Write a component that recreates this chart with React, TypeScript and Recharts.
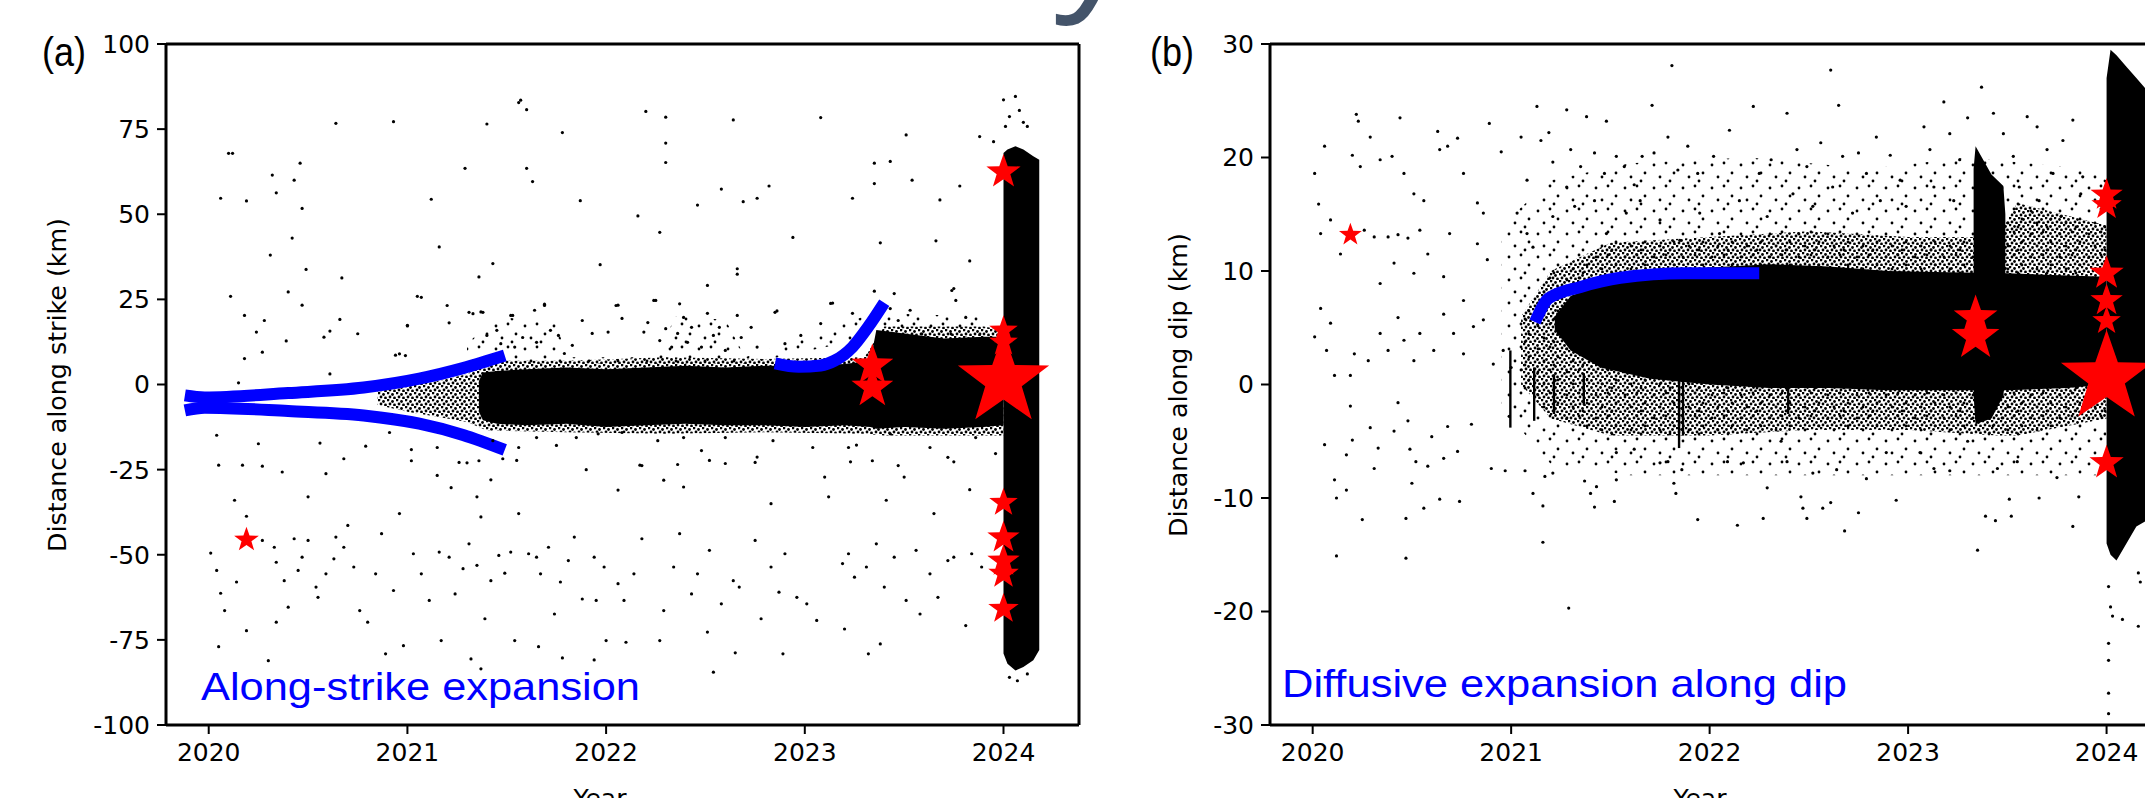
import React from 'react';
import { ComposedChart, XAxis, YAxis, Scatter, Line, Area, ReferenceLine } from 'recharts';

const YEAR_TICKS = [2020, 2021, 2022, 2023, 2024];
const STRIKE_TICKS = [-100, -75, -50, -25, 0, 25, 50, 75, 100];
const DIP_TICKS = [-30, -20, -10, 0, 10, 20, 30];
const YEAR_DOMAIN: [number, number] = [2019.785, 2024.38];

// ---------- panel (a): along strike ----------
// dense main band
const bandAYear = [2021.36, 2021.38, 2021.45, 2021.6, 2021.8, 2022.0, 2022.2, 2022.4, 2022.6, 2022.8, 2023.0, 2023.2, 2023.33, 2023.36, 2023.5, 2023.7, 2023.9, 2024.0];
const bandALow = [-8, -10.5, -11.5, -12, -11.5, -12.5, -12, -11.5, -12, -12, -12.5, -12, -12.5, -13, -12.5, -13, -12.5, -12];
const bandAHigh = [1, 3.5, 4, 4.5, 5, 4.5, 5, 5.5, 5, 5.5, 5.5, 6, 7, 16, 15, 13.5, 14, 14];
// 2024 column
const colAYear = [2024.0, 2024.02, 2024.06, 2024.1, 2024.15, 2024.18];
const colALow = [-79, -82, -84, -83, -81, -78];
const colAHigh = [68, 69, 70, 69, 67, 66];
// speckled halo around the band
const haloAYear = [2020.85, 2021.0, 2021.15, 2021.3, 2021.4, 2021.8, 2022.3, 2022.8, 2023.3, 2023.4, 2023.9, 2024.0];
const haloALow = [-6, -8, -9.5, -11, -13.5, -14, -14.5, -14, -14.5, -15, -15, -15];
const haloAHigh = [-1, 0, 1, 3, 7, 7, 8, 7.5, 8, 17, 17, 16];
const cloudAYear = [2021.3, 2021.45, 2021.75, 2021.8, 2022.25, 2022.35, 2022.6, 2022.7, 2023.35, 2023.9];
const cloudALow = [6, 6, 6, 6, 6, 6, 6, 6, 14, 14];
const cloudAHigh = [12, 20, 18, 8, 8, 20, 19, 8, 21, 20];

// blue migration fronts
const frontA1Year = [2019.88, 2019.98, 2020.4, 2020.78, 2021.06, 2021.28, 2021.49];
const frontA1Val = [-3.2, -3.8, -2.5, -0.9, 1.7, 4.8, 8.5];
const frontA2Year = [2019.88, 2019.98, 2020.4, 2020.78, 2021.06, 2021.28, 2021.49];
const frontA2Val = [-7.6, -6.8, -7.8, -9.1, -11.5, -14.8, -19.2];
const frontA3Year = [2022.85, 2022.97, 2023.08, 2023.15, 2023.24, 2023.32, 2023.4];
const frontA3Val = [6.2, 5.2, 5.6, 7, 11, 17, 24];

// large events
const starAYear = [2020.19, 2023.34, 2023.34, 2024.0, 2024.0, 2024.0, 2024.0, 2024.0, 2024.0, 2024.0, 2024.0, 2024.0];
const starAVal = [-45.6, 5.6, -0.9, 62.4, 15.9, 12.4, -34.7, -45, -51.8, -55.6, -65.9, 1.2];
const starASize = [13, 22, 22, 18, 15, 15, 15, 17, 17, 16, 16, 48];

const sparseA: [number, number][] = [
  [2020.06, 54.7], [2020.1, 67.9], [2020.12, 67.9], [2020.19, 53.9], [2020.32, 61.5], [2020.34, 56.3], [2020.43, 60], [2020.46, 65],
  [2020.47, 51.7], [2020.42, 43], [2020.31, 38], [2020.49, 33.8], [2020.67, 31.3], [2020.64, 76.7], [2020.93, 77.2], [2021.12, 54.4],
  [2021.16, 40.4], [2021.29, 63.5], [2021.4, 76.5], [2021.43, 35.5], [2021.36, 31.6], [2021.56, 82.8], [2021.57, 83.5], [2021.6, 80.7],
  [2021.6, 63.5], [2021.63, 59.6], [2021.78, 74], [2021.87, 54], [2021.97, 35.2], [2022.16, 49.5], [2022.2, 80.2], [2022.3, 78.5],
  [2022.3, 70.9], [2022.3, 65.2], [2022.27, 44.7], [2022.46, 52.7], [2022.58, 57.4], [2022.64, 77.7], [2022.66, 32.4], [2022.69, 53.7],
  [2022.76, 54.7], [2022.82, 58.3], [2022.94, 43.2], [2023.08, 78.4], [2023.24, 54.7], [2023.35, 65], [2023.35, 59], [2023.38, 41.6],
  [2023.43, 65.5], [2023.51, 73.3], [2023.54, 60], [2023.68, 54.2], [2023.66, 42.2], [2023.78, 58.3], [2023.83, 36.3], [2023.88, 72.8],
  [2023.95, 71.3], [2024.0, 83.6], [2024.06, 84.6], [2024.03, 78.7], [2024.12, 75.8], [2024.01, 75.8], [2024.08, 80.5], [2024.1, 77],
  [2020.11, 25.9], [2020.18, 20.3], [2020.24, 15.4], [2020.28, 18.8], [2020.39, 12.8], [2020.4, 27.2], [2020.47, 23.3], [2020.58, 13.9],
  [2020.61, 15.7], [2020.66, 19.1], [2020.75, 14.9], [2021.0, 17.2], [2021.05, 25.9], [2021.21, 18.1], [2021.33, 20.8], [2021.37, 21.3],
  [2021.52, 20.3], [2021.69, 23.6], [2022.06, 23.3], [2022.24, 24.7], [2022.37, 23.7], [2022.51, 29.1], [2022.66, 34], [2022.86, 21.6],
  [2023.14, 23.9], [2023.35, 27.4], [2023.45, 26.7], [2023.75, 28.2], [2020.18, 7.6], [2020.27, 9.5], [2020.15, 0.5], [2020.61, 3.1],
  [2020.96, 9], [2020.99, 8.5], [2020.94, 8.6], [2021.0, 17.4], [2021.07, 25.6], [2021.2, 23.2], [2021.31, 21.2], [2021.38, 21.2],
  [2021.4, 14.4], [2021.45, 15.9], [2021.47, 12], [2021.53, 20.3], [2021.54, 11], [2021.58, 13.8], [2021.64, 21.8], [2021.65, 12.4],
  [2021.69, 23.2], [2021.72, 15.9], [2021.76, 14.4], [2021.79, 9.1], [2021.83, 11.5], [2021.88, 18.8], [2021.93, 15], [2022.01, 15.4],
  [2022.05, 23.2], [2022.08, 19.4], [2022.19, 15.4], [2022.21, 18.2], [2022.25, 24.7], [2022.27, 12.9], [2022.3, 16.4], [2022.33, 11],
  [2022.36, 15], [2022.39, 19.7], [2022.41, 12.4], [2022.43, 16.8], [2022.48, 11], [2022.51, 20.9], [2022.54, 14.4], [2022.57, 16.8],
  [2022.6, 10], [2022.66, 20.3], [2022.68, 13.8], [2022.73, 16.8], [2022.76, 11], [2022.85, 21.2], [2022.9, 12], [2022.98, 14.4],
  [2023.08, 17.9], [2023.13, 23.8], [2023.24, 20.9], [2023.43, 22.3], [2023.47, 18.8], [2023.53, 21.8], [2023.74, 27.6], [2023.76, 24.7],
  [2023.81, 19.7],
  [2020.04, -14.9], [2020.05, -23.7], [2020.17, -23.7], [2020.27, -24], [2020.25, -17.4], [2020.37, -25.7], [2020.56, -17.2], [2020.59, -26.2],
  [2020.68, -21.8], [2020.79, -18.1], [2021.02, -19.1], [2021.15, -26.7], [2021.22, -30.3], [2021.3, -23], [2021.42, -28], [2021.35, -33],
  [2021.48, -21.8], [2021.55, -22.3], [2021.9, -25], [2022.06, -31], [2022.17, -23.7], [2022.29, -28.1], [2022.36, -23.5], [2022.39, -30.1],
  [2022.52, -22.3], [2022.6, -23.2], [2022.76, -21.3], [2022.83, -35], [2023.1, -27.2], [2023.12, -33], [2023.23, -22.7], [2023.26, -17.8],
  [2023.41, -34], [2023.5, -27.2], [2023.65, -37.9], [2023.75, -22.7], [2023.83, -30.9], [2023.96, -20.3],
  [2020.01, -49.5], [2020.04, -54.6], [2020.08, -66.4], [2020.06, -61.3], [2020.14, -58], [2020.18, -45.8], [2020.19, -72.3], [2020.13, -34],
  [2020.19, -38.7], [2020.27, -45.8], [2020.33, -47.8], [2020.34, -52.2], [2020.38, -57.6], [2020.4, -65.4], [2020.34, -69.8], [2020.43, -45.3],
  [2020.47, -50.7], [2020.45, -54.6], [2020.5, -45.8], [2020.5, -33], [2020.54, -59.5], [2020.55, -62.5], [2020.59, -55.6], [2020.63, -51.2],
  [2020.64, -44.8], [2020.68, -47.8], [2020.7, -41.4], [2020.73, -53.6], [2020.76, -66.4], [2020.8, -69.8], [2020.84, -55.6], [2020.87, -43.8],
  [2020.93, -60.5], [2020.96, -37.9], [2021.03, -49.7], [2021.07, -55.6], [2021.11, -63.4], [2021.16, -49.2], [2021.21, -50.7], [2021.24, -61.5],
  [2021.28, -54.1], [2021.31, -46.8], [2021.35, -53.1], [2021.37, -38.9], [2021.39, -68.8], [2021.42, -57.6], [2021.46, -50.2], [2021.49, -55.4],
  [2021.52, -49.2], [2021.56, -37.9], [2021.61, -49.7], [2021.65, -50.7], [2021.67, -55.6], [2021.71, -47.8], [2021.74, -67.4], [2021.77, -58],
  [2021.81, -51.7], [2021.84, -44.8], [2021.88, -63], [2021.94, -50.7], [2021.95, -63.4], [2021.99, -53.6], [2022.06, -58.5], [2022.09, -63.4],
  [2022.14, -55.6], [2022.18, -45.3], [2022.29, -66.4], [2022.34, -53.6], [2022.37, -43.8], [2022.43, -61.5], [2022.46, -55.6], [2022.52, -48.7],
  [2022.58, -64.4], [2022.64, -57.6], [2022.67, -59.5], [2022.75, -45.8], [2022.78, -68.8], [2022.83, -53.6], [2022.87, -61], [2022.9, -49.7],
  [2022.96, -62.5], [2023.01, -64.4], [2023.06, -69.3], [2023.19, -52.6], [2023.22, -49.7], [2023.25, -56.6], [2023.31, -53.6], [2023.36, -46.8],
  [2023.4, -59.5], [2023.45, -50.7], [2023.51, -63.4], [2023.56, -48.7], [2023.58, -67.4], [2023.63, -55.6], [2023.67, -62.5], [2023.72, -51.7],
  [2023.75, -50.7], [2023.84, -49.7], [2023.89, -53.6], [2023.81, -70.8],
  [2020.05, -77], [2020.3, -81.1], [2020.89, -79.1], [2020.98, -76.7], [2021.17, -75.2], [2021.32, -80.6], [2021.37, -83.5], [2021.54, -75.2],
  [2021.66, -77], [2021.78, -80.3], [2021.94, -80.9], [2022.0, -75.2], [2022.1, -75.7], [2022.27, -75.2], [2022.51, -72.7], [2022.54, -84.5],
  [2022.65, -78.8], [2022.89, -79.1], [2023.2, -71.8], [2023.32, -79.1], [2023.38, -76.2],
  [2020.91, -14.1], [2021.02, -22.4], [2021.15, -18.5], [2021.26, -22.9], [2021.36, -22.4], [2021.43, -16.5], [2021.56, -18.5], [2021.65, -15.6],
  [2021.75, -17.9], [2021.85, -15.6], [2021.96, -14.5], [2022.08, -14.1], [2022.18, -23.8], [2022.26, -16.5], [2022.39, -15.6], [2022.48, -19.4],
  [2022.6, -15.6], [2022.75, -22.9], [2022.84, -16.5], [2023.04, -18.5], [2023.22, -18.5], [2023.34, -22.4], [2023.43, -14.5], [2023.47, -23.8],
  [2023.63, -18.5], [2023.72, -21.4], [2023.86, -15.6], [2024.03, -86], [2024.07, -87], [2024.12, -85],
];

// ---------- panel (b): along dip ----------
const coreBYear = [2021.22, 2021.3, 2021.45, 2021.7, 2022.0, 2022.3, 2022.6, 2022.9, 2023.2, 2023.5, 2023.8, 2024.0];
const coreBLow = [4.8, 3, 1.5, 0.5, 0, -0.3, -0.3, -0.5, -0.5, -0.5, -0.3, 0];
const coreBHigh = [6, 7.8, 8.8, 9.8, 10.3, 10.6, 10.4, 10, 9.9, 9.8, 9.6, 9.5];
const spikeBYear = [2023.33, 2023.34, 2023.42, 2023.48, 2023.49];
const spikeBLow = [-1, -3.5, -3, -1, 1];
const spikeBHigh = [19, 21, 18.5, 17.5, 15];
const colBYear = [2024.0, 2024.02, 2024.05, 2024.1, 2024.15, 2024.2];
const colBLow = [-14, -15, -15.5, -14, -12.5, -12];
const colBHigh = [27, 29.5, 29, 28, 27, 26];
// short vertical streaks of bursts below the cloud
const streakBYear = [2020.99, 2021.11, 2021.21, 2021.36, 2021.84, 2021.86, 2022.39];
const streakBLow = [-3.8, -3.2, -2.6, -1.8, -5.6, -4.5, -2.6];
const streakBHigh = [3, 1.5, 0.9, 1, 0.4, 0.4, 0.4];
const haloBYear = [2021.05, 2021.2, 2021.5, 2022.0, 2022.5, 2023.0, 2023.45, 2023.55, 2024.0];
const haloBLow = [0, -3, -4.5, -4.5, -4, -4, -4.5, -4.5, -3];
const haloBHigh = [6, 10, 12.5, 13, 13.5, 13, 13, 16, 14];
const cloudBYear = [2020.95, 2021.2, 2021.6, 2022.2, 2022.8, 2023.3, 2023.9, 2024.0];
const cloudBLow = [-2, -7, -8, -8, -8, -8, -8, -8];
const cloudBHigh = [14, 18, 19.5, 20, 19, 20, 19, 18];

const frontBYear = [2021.12, 2021.19, 2021.35, 2021.55, 2021.88, 2022.25];
const frontBVal = [5.5, 7.6, 8.6, 9.4, 9.8, 9.8];

const starBYear = [2020.19, 2023.34, 2023.34, 2024.0, 2024.0, 2024.0, 2024.0, 2024.0, 2024.0, 2024.0];
const starBVal = [13.2, 5.9, 4.2, 16.7, 15.8, 9.8, 7.4, 5.6, -6.9, 0.6];
const starBSize = [12, 23, 25, 17, 16, 18, 17, 15, 18, 48];

const sparseB: [number, number][] = [
  [2020.01, 18.6], [2020.06, 21], [2020.03, 15.9], [2020.22, 23.8], [2020.23, 23.2], [2020.2, 20.2], [2020.29, 21.8], [2020.24, 19.2],
  [2020.34, 19.8], [2020.4, 20.1], [2020.44, 23.5], [2020.46, 18.6], [2020.51, 16.8], [2020.56, 16.2], [2020.63, 22.3], [2020.64, 20.7],
  [2020.68, 21], [2020.73, 21.7], [2020.76, 18.6], [2020.83, 16], [2020.86, 15.1], [2020.89, 23], [2020.95, 20.5], [2021.05, 21.8],
  [2021.08, 18], [2021.13, 24.5], [2021.15, 21.5], [2021.19, 22.2], [2021.21, 19.6], [2021.28, 24.2], [2021.3, 20.7], [2021.35, 19.2],
  [2021.38, 23.6], [2021.42, 20.4], [2021.47, 18.6], [2021.48, 23.2], [2021.53, 20.1], [2021.57, 19.2], [2021.62, 17.6], [2021.66, 20.1],
  [2021.71, 24.6], [2021.72, 20.4], [2021.79, 21.8], [2021.81, 28.1], [2021.84, 18.9], [2021.89, 21], [2021.94, 18.6], [2022.02, 20.1],
  [2022.1, 22.4], [2022.22, 24.5], [2022.25, 18.6], [2022.31, 19.8], [2022.39, 23.9], [2022.44, 20.7], [2022.49, 19.2], [2022.56, 21.3],
  [2022.61, 27.7], [2022.65, 24.6], [2022.67, 20.1], [2022.75, 20.4], [2022.79, 18.6], [2022.84, 21.8], [2022.91, 20.2], [2022.96, 18],
  [2023.08, 22.7], [2023.11, 20.7], [2023.18, 24.9], [2023.21, 22.1], [2023.26, 19.8], [2023.3, 23.5], [2023.37, 26.2], [2023.43, 23.9],
  [2023.48, 22.1], [2023.53, 20.1], [2023.6, 23.6], [2023.65, 22.7], [2023.7, 20.7], [2023.73, 18.6], [2023.78, 21.5], [2023.83, 23.3],
  [2023.88, 18.3],
  [2020.04, 13.3], [2020.09, 14.5], [2020.14, 11.5], [2020.26, 13.6], [2020.31, 13], [2020.38, 13], [2020.43, 13.2], [2020.48, 12.9],
  [2020.54, 13.6], [2020.34, 8.9], [2020.41, 10.7], [2020.51, 9.8], [2020.58, 11.5], [2020.66, 9.5], [2020.69, 13.3], [2020.76, 7.4],
  [2020.83, 12.4], [2020.88, 11], [2021.03, 15.1], [2021.08, 13.3], [2021.11, 12.1], [2021.21, 14.8], [2021.28, 17.4], [2021.32, 15.7],
  [2021.42, 16.2], [2021.48, 13.3], [2021.58, 15.1], [2021.65, 16.2], [2021.75, 14.5], [2021.85, 12.7], [2021.95, 15.1], [2022.05, 13.3],
  [2022.15, 16.2], [2022.29, 14.8], [2022.42, 16.8], [2022.52, 15.7], [2022.62, 17.4], [2022.72, 15.1], [2022.86, 16.2], [2022.99, 15.7],
  [2023.13, 17.4], [2023.23, 16.2], [2023.46, 15.7], [2023.56, 17.4], [2023.66, 16.2], [2023.77, 14.8], [2023.87, 16.8],
  [2020.01, 4.2], [2020.04, 6.7], [2020.07, 3], [2020.11, 0.8], [2020.19, 0.8], [2020.09, 5.4], [2020.21, 2.7], [2020.28, 2.1],
  [2020.34, 4.5], [2020.38, 3], [2020.43, 5.9], [2020.46, 3.9], [2020.51, 2.1], [2020.54, 4.5], [2020.61, 3], [2020.66, 6.2],
  [2020.71, 4.5], [2020.76, 2.7], [2020.81, 5.1], [2020.86, 5.7], [2020.91, 1.8], [2020.96, 3], [2021.0, 1.5],
  [2020.06, -5.3], [2020.11, -8.4], [2020.12, -10], [2020.12, -15.1], [2020.17, -6.2], [2020.17, -9.3], [2020.19, -1.9], [2020.2, -4.9],
  [2020.25, -11.9], [2020.29, -3.8], [2020.31, -7.4], [2020.33, -5.6], [2020.41, -4.1], [2020.43, -1.6], [2020.47, -11.8], [2020.47, -15.3],
  [2020.48, -3.2], [2020.49, -5.7], [2020.52, -6.8], [2020.5, -8.7], [2020.56, -10.9], [2020.58, -7.2], [2020.6, -4.6], [2020.64, -10.1],
  [2020.66, -6.5], [2020.68, -3.7], [2020.73, -5.9], [2020.74, -10.3], [2020.8, -3.5], [2020.9, -7.4], [2020.97, -7.6], [2020.99, -2.8],
  [2021.07, -7.6], [2021.11, -9.6], [2021.16, -10.7], [2021.16, -13.9], [2021.17, -8.1], [2021.21, -7.8], [2021.29, -19.7], [2021.37, -8.5],
  [2021.4, -9.6], [2021.42, -10.8], [2021.43, -9], [2021.52, -10.3], [2021.53, -8.4], [2021.53, -6], [2021.62, -5.7], [2021.75, -6.9],
  [2021.79, -6.8], [2021.82, -8.7], [2021.83, -9.6], [2021.86, -7.5], [2021.94, -11.9], [2022.09, -6.8], [2022.14, -12.4], [2022.17, -6.9],
  [2022.27, -11.8], [2022.29, -9.1], [2022.36, -5], [2022.39, -6.8], [2022.46, -9.9], [2022.47, -10.9], [2022.49, -11.8], [2022.52, -7.8],
  [2022.57, -10.9], [2022.61, -10.4], [2022.64, -7.5], [2022.68, -12.9], [2022.75, -11.3], [2022.79, -8.3], [2022.89, -6], [2022.94, -10.2],
  [2023.06, -6], [2023.13, -7.4], [2023.21, -7.6], [2023.3, -5], [2023.35, -14.6], [2023.39, -11.6], [2023.44, -12], [2023.45, -7.4],
  [2023.51, -10.1], [2023.52, -11.6], [2023.55, -6.8], [2023.66, -10], [2023.75, -8.2], [2023.83, -12.5], [2023.86, -9.9],
  [2024.01, -17.8], [2024.02, -19.6], [2024.03, -20.4], [2024.01, -22.8], [2024.01, -24.3], [2024.01, -27.2], [2024.01, -29], [2024.08, -20.7],
  [2024.16, -21.3], [2024.16, -16.6], [2024.17, -17.4],
];

const pairs = (xs: number[], ys: number[]) => xs.map((x, i) => ({ x, y: ys[i] }));
const ranges = (xs: number[], lo: number[], hi: number[]) => xs.map((x, i) => ({ x, v: [lo[i], hi[i]] }));
const stars = (xs: number[], ys: number[], rs: number[]) => xs.map((x, i) => ({ x, y: ys[i], r: rs[i] }));
const dots = (list: [number, number][]) => list.map(([x, y]) => ({ x, y }));
// each streak is a very narrow range area at its own date
const streaks = (xs: number[], lo: number[], hi: number[]) =>
  xs.map((x, i) => [{ x, v: [lo[i], hi[i]] }, { x: x + 0.012, v: [lo[i], hi[i]] }]);

const dotShape = (p: any) => <circle cx={p.cx} cy={p.cy} r={1.6} fill="#000" />;
const starShape = (p: any) => {
  const R = p.payload.r;
  const pts: string[] = [];
  for (let k = 0; k < 10; k++) {
    const rr = k % 2 === 0 ? R : R * 0.4;
    const a = -Math.PI / 2 + (k * Math.PI) / 5;
    pts.push(`${p.cx + rr * Math.cos(a)},${p.cy + rr * Math.sin(a)}`);
  }
  return <polygon points={pts.join(' ')} fill="#ff0000" />;
};

const tickStyle = { fontSize: 25, fill: '#000', fontFamily: 'DejaVu Sans' };
const BLUE = '#0000ff';

function Panel({ yDomain, yTicks, yWidth, marginRight, areasSparse, areasMed, areasCore, sparse, fronts, starData }: any) {
  return (
    <ComposedChart width={1100} height={798} margin={{ top: 44, right: marginRight, bottom: 13, left: 0 }}>
      <XAxis
        type="number" dataKey="x" domain={YEAR_DOMAIN} ticks={YEAR_TICKS} allowDataOverflow
        height={60} tickSize={9} tickMargin={9} tick={tickStyle}
        axisLine={{ stroke: '#000', strokeWidth: 3 }} tickLine={{ stroke: '#000', strokeWidth: 2 }}
      />
      <YAxis
        type="number" domain={yDomain} ticks={yTicks} allowDataOverflow width={yWidth}
        tickSize={9} tickMargin={7} tick={tickStyle} interval={0}
        axisLine={{ stroke: '#000', strokeWidth: 3 }} tickLine={{ stroke: '#000', strokeWidth: 2 }}
      />
      <ReferenceLine y={yDomain[1]} stroke="#000" strokeWidth={3} />
      <ReferenceLine x={YEAR_DOMAIN[1]} stroke="#000" strokeWidth={3} />
      {areasSparse.map((d: any, i: number) => (
        <Area key={`s${i}`} data={d} dataKey="v" type="linear" stroke="none" fill="url(#dotsSparse)" fillOpacity={1} isAnimationActive={false} />
      ))}
      {areasMed.map((d: any, i: number) => (
        <Area key={`m${i}`} data={d} dataKey="v" type="linear" stroke="none" fill="url(#dotsMed)" fillOpacity={1} isAnimationActive={false} />
      ))}
      {areasCore.map((d: any, i: number) => (
        <Area key={`c${i}`} data={d} dataKey="v" type="linear" stroke="none" fill="#000" fillOpacity={1} isAnimationActive={false} />
      ))}
      <Scatter data={sparse} dataKey="y" shape={dotShape} isAnimationActive={false} />
      {fronts.map((d: any, i: number) => (
        <Line key={`f${i}`} data={d} dataKey="y" type="monotone" stroke={BLUE} strokeWidth={12} dot={false} isAnimationActive={false} />
      ))}
      <Scatter data={starData} dataKey="y" shape={starShape} isAnimationActive={false} />
    </ComposedChart>
  );
}

export default function App() {
  return (
    <div style={{ position: 'absolute', left: 0, top: 0, width: 2145, height: 798, overflow: 'hidden', background: '#fff' }}>
      <svg width={0} height={0} style={{ position: 'absolute' }}>
        <defs>
          <pattern id="dotsSparse" width={29} height={23} patternUnits="userSpaceOnUse">
            <circle cx={3} cy={4} r={1.4} fill="#000" />
            <circle cx={15} cy={2} r={1.4} fill="#000" />
            <circle cx={23} cy={12} r={1.4} fill="#000" />
            <circle cx={9} cy={16} r={1.4} fill="#000" />
            <circle cx={19} cy={20} r={1.4} fill="#000" />
          </pattern>
          <pattern id="dotsMed" width={9} height={7} patternUnits="userSpaceOnUse">
            <circle cx={1} cy={1} r={1.4} fill="#000" />
            <circle cx={5.5} cy={2.5} r={1.4} fill="#000" />
            <circle cx={3} cy={5} r={1.4} fill="#000" />
            <circle cx={7.5} cy={6} r={1.4} fill="#000" />
          </pattern>
        </defs>
      </svg>
      <div style={{ position: 'absolute', left: 0, top: 0 }}>
        <Panel
          yDomain={[-100, 100]} yTicks={STRIKE_TICKS} yWidth={166} marginRight={21}
          areasSparse={[ranges(cloudAYear, cloudALow, cloudAHigh)]}
          areasMed={[ranges(haloAYear, haloALow, haloAHigh)]}
          areasCore={[ranges(bandAYear, bandALow, bandAHigh), ranges(colAYear, colALow, colAHigh)]}
          sparse={dots(sparseA)}
          fronts={[pairs(frontA1Year, frontA1Val), pairs(frontA2Year, frontA2Val), pairs(frontA3Year, frontA3Val)]}
          starData={stars(starAYear, starAVal, starASize)}
        />
      </div>
      <div style={{ position: 'absolute', left: 1100, top: 0 }}>
        <Panel
          yDomain={[-30, 30]} yTicks={DIP_TICKS} yWidth={170} marginRight={18}
          areasSparse={[ranges(cloudBYear, cloudBLow, cloudBHigh)]}
          areasMed={[ranges(haloBYear, haloBLow, haloBHigh)]}
          areasCore={[
            ranges(coreBYear, coreBLow, coreBHigh),
            ranges(spikeBYear, spikeBLow, spikeBHigh),
            ranges(colBYear, colBLow, colBHigh),
            ...streaks(streakBYear, streakBLow, streakBHigh),
          ]}
          sparse={dots(sparseB)}
          fronts={[pairs(frontBYear, frontBVal)]}
          starData={stars(starBYear, starBVal, starBSize)}
        />
      </div>
      <svg width={2145} height={798} style={{ position: 'absolute', left: 0, top: 0, pointerEvents: 'none' }}>
        <text x={1140} y={-10} textAnchor="end" fontSize={150} fontStyle="italic" fontFamily="Noto Sans" fill="#44546a">Seismicity</text>
        <text x={42} y={66} fontSize={40} fontFamily="Liberation Sans" textLength={44} lengthAdjust="spacingAndGlyphs">(a)</text>
        <text x={1150} y={66} fontSize={40} fontFamily="Liberation Sans" textLength={44} lengthAdjust="spacingAndGlyphs">(b)</text>
        <text x={201} y={700} fontSize={39} fontFamily="Liberation Sans" fill={BLUE} textLength={439} lengthAdjust="spacingAndGlyphs">Along-strike expansion</text>
        <text x={1282} y={697} fontSize={39} fontFamily="Liberation Sans" fill={BLUE} textLength={565} lengthAdjust="spacingAndGlyphs">Diffusive expansion along dip</text>
        <text transform="translate(66,385) rotate(-90)" textAnchor="middle" fontSize={25} fontFamily="DejaVu Sans" textLength={334} lengthAdjust="spacingAndGlyphs">Distance along strike (km)</text>
        <text transform="translate(1187,385) rotate(-90)" textAnchor="middle" fontSize={25} fontFamily="DejaVu Sans" textLength={304} lengthAdjust="spacingAndGlyphs">Distance along dip (km)</text>
        <text x={600} y={807} textAnchor="middle" fontSize={25} fontFamily="DejaVu Sans">Year</text>
        <text x={1700} y={807} textAnchor="middle" fontSize={25} fontFamily="DejaVu Sans">Year</text>
      </svg>
    </div>
  );
}
